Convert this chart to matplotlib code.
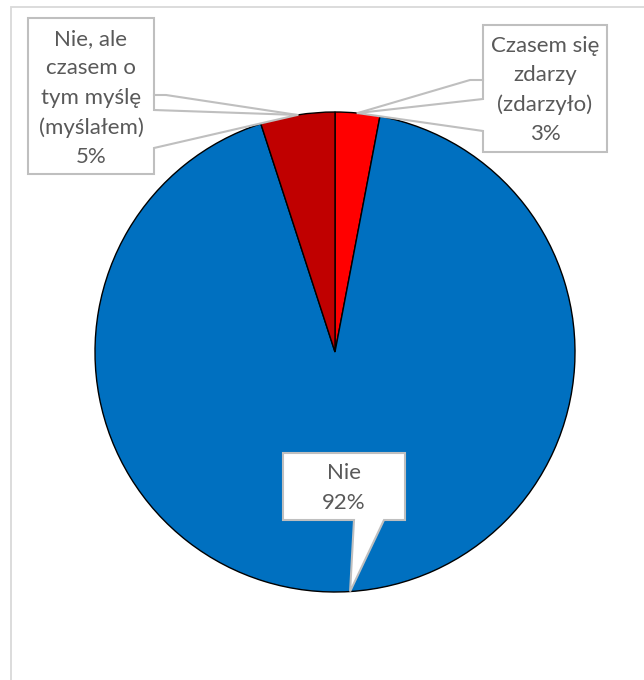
import numpy as np
import matplotlib
matplotlib.use("Agg")
import matplotlib.pyplot as plt
from matplotlib.patches import Polygon, Rectangle

# Survey answers, in drawing order (clockwise from 12 o'clock)
categories = ["Czasem się\nzdarzy\n(zdarzyło)", "Nie", "Nie, ale\nczasem o\ntym myślę\n(myślałem)"]
values = [3, 92, 5]
colors = ["#FF0000", "#0070C0", "#C00000"]

W, H = 644, 680
fig = plt.figure(figsize=(W / 100, H / 100), dpi=100)
ax = fig.add_axes([0, 0, 1, 1])

def py(y):
    """Convert a top-down pixel row to axes y."""
    return H - y

# chart-area frame
ax.add_patch(Rectangle((11, py(700)), 700, 700 - 7, fill=False,
                       edgecolor="#D9D9D9", lw=1.3, zorder=0))

cx, cy, r = 335, py(352), 240
wedges, _ = ax.pie(values, colors=colors, startangle=90, counterclock=False,
                   center=(cx, cy), radius=r,
                   wedgeprops=dict(edgecolor="black", linewidth=1.0))
ax.set_xlim(0, W)
ax.set_ylim(0, H)
ax.set_aspect("equal")
ax.axis("off")

def tip_of(w):
    ang = np.deg2rad((w.theta1 + w.theta2) / 2)
    return cx + r * np.cos(ang), cy + r * np.sin(ang)

box_ec = "#BFBFBF"
txt_c = "#595959"
font = dict(family=["Lato", "DejaVu Sans"], fontsize=16, color=txt_c,
            ha="center", va="center", linespacing=1.58, zorder=6)

def callout(pts, leader=None):
    poly = Polygon(pts, closed=True, facecolor="white", edgecolor=box_ec,
                   lw=1.5, zorder=5, joinstyle="miter")
    ax.add_patch(poly)
    if leader is not None:
        lx, ly = zip(*leader)
        ax.plot(lx, ly, color=box_ec, lw=1.5, zorder=5)

labels = [f"{c}\n{v}%" for c, v in zip(categories, values)]

# right callout (first slice)
tx, ty = tip_of(wedges[0])
x0, x1, t, b = 483, 607, py(25), py(152)
callout([(x0, t), (x1, t), (x1, b), (x0, b), (x0, py(131)), (tx, ty), (x0, py(99))],
        leader=[(x0, py(80)), (470, py(80)), (tx, ty)])
ax.text((x0 + x1) / 2, py(90), labels[0], **font)

# bottom callout (second slice)
tx, ty = tip_of(wedges[1])
x0, x1, t, b = 283, 405, py(453), py(520)
callout([(x0, t), (x1, t), (x1, b), (384, b), (tx, ty), (354, b), (x0, b)])
ax.text((x0 + x1) / 2, py(488), labels[1], **font)

# left callout (third slice)
tx, ty = tip_of(wedges[2])
x0, x1, t, b = 28, 154, py(18), py(174)
callout([(x0, t), (x1, t), (x1, py(110)), (tx, ty), (x1, py(148)), (x1, b), (x0, b)],
        leader=[(x1, py(95)), (166, py(95)), (tx, ty)])
ax.text((x0 + x1) / 2, py(98), labels[2], **font)

fig.savefig("out.png", dpi=100)
